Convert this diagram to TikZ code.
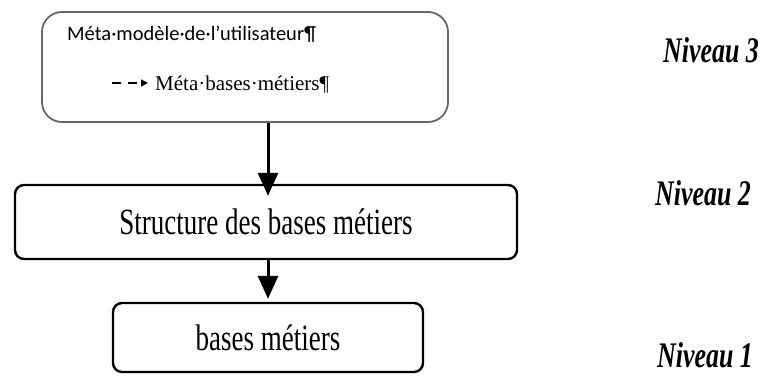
\documentclass[tikz,border=0pt]{standalone}
\usepackage{fontspec}
\usetikzlibrary{arrows.meta}
\newfontfamily\tnr{Liberation Serif}
\newfontfamily\tnrc[FakeStretch=0.73]{Liberation Serif}
\newfontfamily\tnrl[FakeStretch=0.72]{Liberation Serif}
\newfontfamily\calib{Carlito}
\tikzset{
  boxa/.style={draw=black!60, line width=1.8pt, rounded corners=20pt, minimum width=406pt, minimum height=110pt},
  boxb/.style={draw=black, line width=2.4pt, rounded corners=9pt, inner sep=0pt},
  arr/.style={line width=3pt, -{Triangle[width=20pt,length=23pt]}},
  lvl/.style={font=\tnrl\fontsize{36}{36}\selectfont\bfseries\itshape, anchor=base west, inner sep=0pt},
}
\begin{document}
\begin{tikzpicture}[x=1pt,y=-1pt]
\useasboundingbox (0,0) rectangle (765,375);
\node[boxa] (top) at (245,67) {};
\node[anchor=base west, inner sep=0pt, font=\calib\fontsize{20.5}{20.5}\selectfont] (t1) at (67,40) {Méta·modèle·de·l’utilisateur¶};
\node[anchor=base west, inner sep=0pt, font=\tnr\fontsize{21}{21}\selectfont] (t2) at (155,90) {Méta·bases·métiers¶};
\coordinate (d1) at (112,83);
\coordinate (d2) at (148,83);
\draw[line width=1.5pt, dash pattern=on 9pt off 7pt, -{Triangle[width=7pt,length=7pt]}] (d1) -- (d2);
\node[boxb, minimum width=502pt, minimum height=74pt, font=\tnrc\fontsize{37}{37}\selectfont] (mid) at (266,222) {Structure des bases métiers};
\node[boxb, minimum width=310pt, minimum height=69pt, font=\tnrc\fontsize{37}{37}\selectfont] (bot) at (268,337.5) {bases métiers};
\draw[arr] ([xshift=23pt]top.south) -- ([xshift=2pt,yshift=-12pt]mid.north);
\draw[arr] ([xshift=2pt]mid.south) -- ([yshift=3pt]bot.north);
\node[lvl] (n3) at (663,62) {Niveau 3};
\node[lvl] (n2) at (655,205) {Niveau 2};
\node[lvl] (n1) at (657,367) {Niveau 1};
\end{tikzpicture}
\end{document}
